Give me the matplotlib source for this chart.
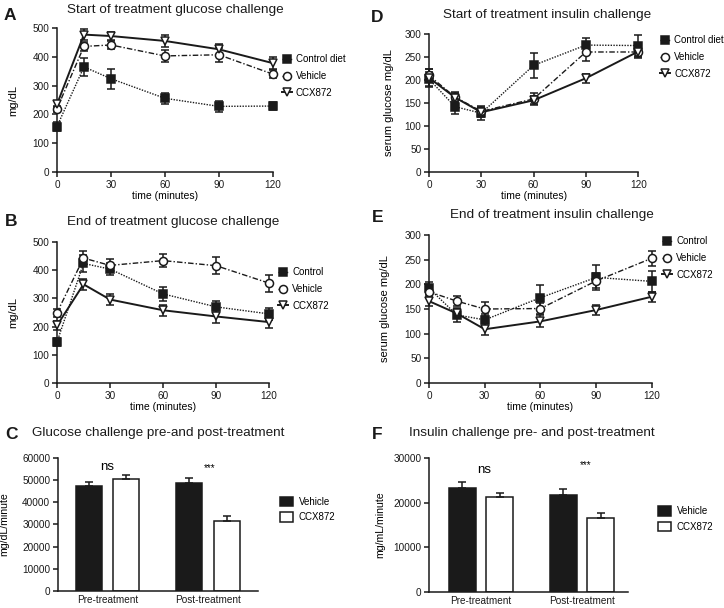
import numpy as np
import matplotlib.pyplot as plt

plt.rcParams['font.family'] = ['Liberation Sans', 'DejaVu Sans']

### Data
time = [0, 15, 30, 60, 90, 120]

# A - start of treatment glucose challenge
a_control = [158, 365, 324, 256, 228, 229]
a_control_err = [15, 32, 35, 20, 20, 15]
a_vehicle = [220, 436, 441, 403, 407, 340]
a_vehicle_err = [10, 15, 15, 20, 25, 15]
a_ccx = [235, 477, 472, 455, 426, 378]
a_ccx_err = [10, 18, 15, 20, 20, 22]

# B - end of treatment glucose challenge
b_control = [145, 424, 404, 316, 270, 245]
b_control_err = [15, 30, 20, 25, 22, 20]
b_vehicle = [249, 443, 417, 434, 416, 354]
b_vehicle_err = [15, 25, 22, 22, 30, 30]
b_ccx = [204, 350, 296, 258, 236, 216]
b_ccx_err = [15, 20, 20, 20, 22, 20]

# D - start of treatment insulin challenge
d_control = [202, 142, 128, 232, 276, 275]
d_control_err = [15, 15, 15, 27, 15, 23]
d_vehicle = [210, 163, 132, 159, 261, 261]
d_vehicle_err = [15, 10, 10, 12, 20, 10]
d_ccx = [205, 162, 130, 156, 204, 262]
d_ccx_err = [20, 10, 10, 10, 10, 15]

# E - end of treatment insulin challenge
e_control = [192, 138, 128, 173, 214, 206]
e_control_err = [12, 15, 12, 25, 25, 22]
e_vehicle = [185, 166, 150, 151, 207, 253]
e_vehicle_err = [12, 10, 15, 12, 15, 15]
e_ccx = [166, 141, 109, 125, 148, 175]
e_ccx_err = [10, 10, 12, 12, 10, 10]

# C / F - area under curve
phases = ['Pre-treatment', 'Post-treatment']
c_vehicle = [47400, 48600]
c_vehicle_err = [1650, 2200]
c_ccx = [50400, 31700]
c_ccx_err = [1800, 2250]
f_vehicle = [23300, 21600]
f_vehicle_err = [1400, 1400]
f_ccx = [21200, 16600]
f_ccx_err = [900, 1000]

TICK = 7.2
LAB = 8.0
LEG = 7.0
INK = '#1a1a1a'

fig = plt.figure(figsize=(7.24, 6.08), dpi=100)


def style_axes(ax):
    for s in ['top', 'right']:
        ax.spines[s].set_visible(False)
    for s in ['left', 'bottom']:
        ax.spines[s].set_linewidth(1.1)
        ax.spines[s].set_color(INK)


def line_panel(rect, series, labels, ymax, ystep, ylabel, ylab_x, legend_pos):
    ax = fig.add_axes(rect)
    styles = [dict(marker='s', mfc=INK, ls=(0, (1, 1)), lw=1.0),
              dict(marker='o', mfc='white', ls=(0, (4, 1.5, 1, 1.5)), lw=1.0),
              dict(marker='v', mfc='white', ls='-', lw=1.4)]
    for (y, err), lab, st in zip(series, labels, styles):
        ax.errorbar(time, y, yerr=err, color=INK, mec=INK, ms=5.8, mew=1.1,
                    capsize=3, elinewidth=1.1, capthick=1.1, label=lab, clip_on=False,
                    zorder=3, **st)
    ax.set_xlim(0, 120)
    ax.set_ylim(0, ymax)
    ax.set_xticks([0, 30, 60, 90, 120])
    ax.set_yticks(np.arange(0, ymax + 1, ystep))
    ax.set_xlabel('time (minutes)', fontsize=LAB - 0.5, labelpad=1)
    ax.set_ylabel(ylabel, fontsize=LAB)
    ax.yaxis.set_label_coords(ylab_x, 0.5)
    style_axes(ax)
    ax.tick_params(labelsize=TICK, width=1.1, length=3.5, pad=2, colors=INK)
    h, l = ax.get_legend_handles_labels()
    h = [x[0] for x in h]
    ax.legend(h, l, loc='center left', bbox_to_anchor=legend_pos, frameon=False,
              fontsize=LEG, handlelength=1.0, handletextpad=0.45, labelspacing=0.7,
              borderpad=0, borderaxespad=0)
    return ax


def bar_panel(rect, veh, veh_err, ccx, ccx_err, ymax, ystep, ylabel, ylab_x,
              centers, off, width, stars_x, stars_y, legend_pos):
    ax = fig.add_axes(rect)
    centers = np.array(centers)
    ax.bar(centers - off, veh, width, color=INK, edgecolor=INK, lw=1.1, label='Vehicle')
    ax.bar(centers + off, ccx, width, color='white', edgecolor=INK, lw=1.1, label='CCX872')
    ax.errorbar(centers - off, veh, yerr=[np.zeros(2), veh_err], fmt='none',
                ecolor=INK, capsize=3.2, elinewidth=1.1, capthick=1.1)
    ax.errorbar(centers + off, ccx, yerr=[np.zeros(2), ccx_err], fmt='none',
                ecolor=INK, capsize=3.2, elinewidth=1.1, capthick=1.1)
    ax.set_xlim(0, 10)
    ax.set_ylim(0, ymax)
    ax.set_yticks(np.arange(0, ymax + 1, ystep))
    ax.set_xticks(centers)
    ax.set_xticklabels(phases)
    ax.set_ylabel(ylabel, fontsize=LAB - 0.4)
    ax.yaxis.set_label_coords(ylab_x, 0.5)
    style_axes(ax)
    ax.tick_params(axis='y', labelsize=TICK, width=1.1, length=3.5, pad=2, colors=INK)
    ax.tick_params(axis='x', labelsize=TICK, length=0, pad=3, colors=INK)
    ax.text(stars_x[0], stars_y[0], 'ns', ha='center', va='center', fontsize=9.6)
    ax.text(stars_x[1], stars_y[1], '***', ha='center', va='center', fontsize=7)
    ax.legend(loc='center left', bbox_to_anchor=legend_pos, frameon=False, fontsize=LEG,
              handlelength=1.35, handleheight=1.1, handletextpad=0.6, labelspacing=0.55,
              borderpad=0, borderaxespad=0)
    return ax


line_panel([0.0787, 0.717, 0.298, 0.237],
           [(a_control, a_control_err), (a_vehicle, a_vehicle_err), (a_ccx, a_ccx_err)],
           ['Control diet', 'Vehicle', 'CCX872'], 500, 100, 'mg/dL', -0.18, (1.042, 0.667))
line_panel([0.0787, 0.370, 0.293, 0.232],
           [(b_control, b_control_err), (b_vehicle, b_vehicle_err), (b_ccx, b_ccx_err)],
           ['Control', 'Vehicle', 'CCX872'], 500, 100, 'mg/dL', -0.184, (1.042, 0.667))
line_panel([0.5925, 0.717, 0.289, 0.227],
           [(d_control, d_control_err), (d_vehicle, d_vehicle_err), (d_ccx, d_ccx_err)],
           ['Control diet', 'Vehicle', 'CCX872'], 300, 50, 'serum glucose mg/dL', -0.167,
           (1.105, 0.833))
line_panel([0.5925, 0.370, 0.308, 0.2435],
           [(e_control, e_control_err), (e_vehicle, e_vehicle_err), (e_ccx, e_ccx_err)],
           ['Control', 'Vehicle', 'CCX872'], 300, 50, 'serum glucose mg/dL', -0.175,
           (1.045, 0.845))

bar_panel([0.080, 0.028, 0.276, 0.219], c_vehicle, c_vehicle_err, c_ccx, c_ccx_err,
          60000, 10000, 'mg/dL/minute', -0.245, [2.49, 7.5], 0.94, 1.3,
          [2.45, 7.6], [55900, 55500], (1.11, 0.61))
bar_panel([0.5925, 0.026, 0.2745, 0.221], f_vehicle, f_vehicle_err, f_ccx, f_ccx_err,
          30000, 10000, 'mg/mL/minute', -0.221, [2.62, 7.70], 0.94, 1.36,
          [2.8, 7.9], [27300, 28400], (1.15, 0.545))

# panel titles and letters
titles = [(0.242, 0.983, 'Start of treatment glucose challenge'),
          (0.239, 0.635, 'End of treatment glucose challenge'),
          (0.218, 0.288, 'Glucose challenge pre-and post-treatment'),
          (0.756, 0.975, 'Start of treatment insulin challenge'),
          (0.762, 0.646, 'End of treatment insulin challenge'),
          (0.735, 0.288, 'Insulin challenge pre- and post-treatment')]
for x, y, t in titles:
    fig.text(x, y, t, ha='center', va='center', fontsize=9.7, color=INK)

letters = [(0.005, 0.974, 'A'), (0.007, 0.635, 'B'), (0.007, 0.286, 'C'),
           (0.512, 0.972, 'D'), (0.514, 0.643, 'E'), (0.514, 0.286, 'F')]
for x, y, t in letters:
    fig.text(x, y, t, ha='left', va='center', fontsize=12.5, fontweight='bold', color=INK)

fig.savefig('out.png', dpi=100)
